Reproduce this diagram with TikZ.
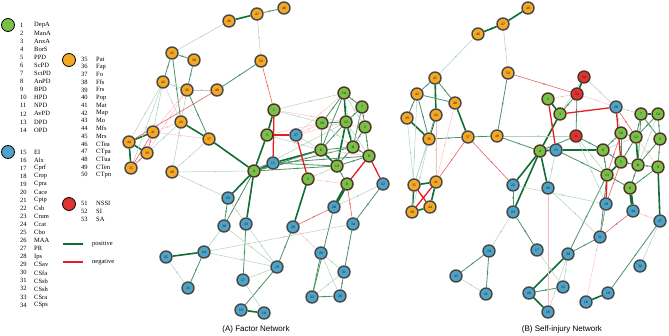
\documentclass[tikz,border=0pt]{standalone}
\usepackage{fontspec}
\setmainfont{Liberation Serif}
\newfontfamily\capfont{Liberation Sans}
\usetikzlibrary{arrows.meta,decorations.markings}
\definecolor{posc}{RGB}{16,110,52}
\definecolor{negc}{RGB}{228,30,36}
\definecolor{grnfill}{RGB}{122,192,72}
\definecolor{orgfill}{RGB}{245,168,35}
\definecolor{blufill}{RGB}{78,163,200}
\definecolor{redfill}{RGB}{222,52,52}
\definecolor{rimg}{RGB}{80,50,38}
\pgfdeclarelayer{bg}
\pgfsetlayers{bg,main}

\begin{document}
\begin{tikzpicture}[x=1pt,y=-1pt]
 \tikzset{vertex/.style = {shape=circle,draw=black!72,line width=1.4pt,minimum size=12pt,inner sep=0pt,font=\fontsize{3.6}{4}\selectfont}}
 \tikzset{gv/.style = {vertex,fill=grnfill,draw=rimg}}
 \tikzset{ov/.style = {vertex,fill=orgfill}}
 \tikzset{bv/.style = {vertex,fill=blufill}}
 \tikzset{rv/.style = {vertex,fill=redfill,draw=rimg}}
 \tikzset{edge/.style = {postaction={decorate},decoration={markings,mark=at position 0.55 with {\arrow{Stealth[length=2.2pt,width=1.8pt]}}}}}
 \tikzset{p0/.style = {edge,posc,line width=3pt}}
 \tikzset{p1/.style = {edge,posc,line width=1.6pt}}
 \tikzset{p2/.style = {edge,posc!75,line width=0.8pt}}
 \tikzset{p3/.style = {edge,posc!32,line width=0.5pt}}
 \tikzset{n1/.style = {edge,negc,line width=1.3pt}}
 \tikzset{n2/.style = {edge,negc!70,line width=0.6pt}}
 \tikzset{n3/.style = {edge,negc!30,line width=0.4pt}}
 \tikzset{leg/.style = {anchor=west,inner sep=0pt,font=\fontsize{6.5}{7}\selectfont}}
 \tikzset{legdot/.style = {shape=circle,draw=black,line width=0.8pt,minimum size=13pt,inner sep=0pt}}
 \useasboundingbox (0,0) rectangle (669,335);

 % legend
 \node[legdot,fill=grnfill] (dotg) at (8,25) {};
 \node[legdot,fill=blufill] (dotb) at (8,152) {};
 \node[legdot,fill=orgfill] (doto) at (69,60) {};
 \node[legdot,fill=redfill] (dotr) at (69,204) {};
 \foreach \i/\t [count=\k from 0] in {1/DepA,2/ManA,3/AnxA,4/BorS,5/PPD,6/ScPD,7/SctPD,8/AnPD,9/BPD,10/HPD,11/NPD,12/AvPD,13/DPD,14/OPD}{
  \node[leg] (num\i) at (20,{25+8.08*\k}) {\i};
  \node[leg] (lab\i) at (34,{25+8.08*\k}) {\t};
 }
 \foreach \i/\t [count=\k from 0] in {15/EI,16/Alx,17/Cprf,18/Crop,19/Cpra,20/Cace,21/Cpip,22/Csb,23/Crum,24/Ccat,25/Cbo,26/MAA,27/PR,28/Ips,29/CSav,30/CSfa,31/CSsb,32/CSsh,33/CSra,34/CSps}{
  \node[leg] (num\i) at (20,{152+8.05*\k}) {\i};
  \node[leg] (lab\i) at (34,{152+8.05*\k}) {\t};
 }
 \foreach \i/\t [count=\k from 0] in {35/Pat,36/Fap,37/Fo,38/Ffs,39/Frs,40/Pop,41/Mat,42/Map,43/Mo,44/Mfs,45/Mrs,46/CTea,47/CTpa,48/CTua,49/CTen,50/CTpn}{
  \node[leg] (num\i) at (81,{59+7.72*\k}) {\i};
  \node[leg] (lab\i) at (96,{59+7.72*\k}) {\t};
 }
 \foreach \i/\t [count=\k from 0] in {51/NSSI,52/SI,53/SA}{
  \node[leg] (num\i) at (81,{203+8*\k}) {\i};
  \node[leg] (lab\i) at (96,{203+8*\k}) {\t};
 }
 \coordinate (ps) at (63,244); \coordinate (pe) at (83,244);
 \coordinate (ns) at (63,262); \coordinate (ne) at (83,262);
 \draw[posc,line width=2.8pt] (ps) -- (pe);
 \draw[negc,line width=2.8pt] (ns) -- (ne);
 \node[leg] (lpos) at (92,244) {positive};
 \node[leg] (lneg) at (92,262) {negative};

 % (A) factor network
 \foreach \n/\x/\y in {1/274/110,2/365/127,3/267/135,4/254/171,5/308/179,6/321/150,7/362/107,8/347/184,9/369/156,10/322/123,11/353/147,12/346/122,13/337/166,14/344/93}
  \node[gv] (a\n) at (\x,\y) {\n};
 \foreach \n/\x/\y in {15/273/163,16/241/310,17/243/280,18/264/313,19/277/267,20/340/296,21/188/288,22/228/198,23/312/297,24/204/252,25/166/257,26/321/253,27/296/135,28/334/207,29/293/227,30/224/226,31/344/272,32/383/184,33/246/224,34/353/224}
  \node[bv] (a\n) at (\x,\y) {\n};
 \foreach \n/\x/\y in {35/131/168,36/187/90,37/209/139,38/194/60,39/147/153,40/217/90,41/153/132,42/163/82,43/181/122,44/129/142,45/172/53,46/229/21,47/257/14,48/284/8,49/172/172,50/261/61}
  \node[ov] (a\n) at (\x,\y) {\n};

 % (B) self-injury network
 \foreach \n/\x/\y in {1/548/99,2/660/139,3/560/114,4/540/151,5/621/162,6/603/150,7/641/114,8/630/188,9/658/167,10/621/133,11/638/165,12/636/137,13/607/175,14/658/114}
  \node[gv] (b\n) at (\x,\y) {\n};
 \foreach \n/\x/\y in {15/556/150,16/548/312,17/537/250,18/586/302,19/608/293,20/548/188,21/486/294,22/513/185,23/513/212,24/489/251,25/456/276,26/529/293,27/660/221,28/616/107,29/606/204,30/568/254,31/600/237,32/640/266,33/563/287,34/633/211}
  \node[bv] (b\n) at (\x,\y) {\n};
 \foreach \n/\x/\y in {35/414/185,36/429/139,37/468/137,38/412/212,39/407/118,40/455/103,41/436/182,42/417/94,43/436/115,44/430/207,45/435/78,46/478/34,47/503/24,48/528/8,49/497/136,50/508/73}
  \node[ov] (b\n) at (\x,\y) {\n};
 \foreach \n/\x/\y in {51/576/136,52/584/77,53/577/94}
  \node[rv] (b\n) at (\x,\y) {\n};

 \begin{pgfonlayer}{bg}
 % edges of (A)
 \foreach \u/\v in {4/15,8/28}
  \draw[p0] (a\u) -- (a\v);
 \foreach \u/\v in {46/47,43/37,37/4,44/41,44/39,44/35,1/3,3/4,15/6,4/22,4/33,24/25,16/18,5/29,14/12,12/11,12/13,6/13}
  \draw[p1] (a\u) -- (a\v);
 \foreach \u/\v in {47/48,45/38,45/42,45/43,38/36,40/50,36/37,4/6,4/13,15/13,22/30,4/30,33/17,24/21,16/19,19/29,28/23,34/31,32/34,31/20,23/20,26/23,13/8,4/11,15/9,14/10,14/7,14/6,7/12,7/2,7/11,12/10,12/6,2/9,2/11,11/9,11/13,11/6,10/6,9/13}
  \draw[p2] (a\u) -- (a\v);
 \foreach \u/\v in {47/50,45/46,42/36,36/40,42/41,37/49,42/35,43/39,49/4,42/44,36/49,49/22,1/10,27/6,3/6,30/24,24/34,17/19,17/18,25/21,23/31,5/13,14/11,10/11,14/2,12/9,4/12,32/28,26/31,26/20,30/19,22/33,24/19,1/14,33/19}
  \draw[p3] (a\u) -- (a\v);
 \foreach \u/\v in {1/15,3/27,27/5,9/32,9/8}
  \draw[n1] (a\u) -- (a\v);
 \foreach \u/\v in {50/1,40/44,41/39,39/35,41/35,8/34,29/28}
  \draw[n2] (a\u) -- (a\v);
 \foreach \u/\v in {42/43,36/41,43/41,37/41,36/39,1/12,3/10,27/10,27/12,5/8,10/2,6/9,26/29,27/14}
  \draw[n3] (a\u) -- (a\v);

 % edges of (B)
 \foreach \u/\v in {8/34}
  \draw[p0] (b\u) -- (b\v);
 \foreach \u/\v in {48/47,47/46,45/43,43/36,40/37,39/36,35/41,35/38,41/44,38/44,52/53,1/3,3/4,4/15,15/6,9/27,4/20,4/22,4/23,30/26,26/16,18/19,7/14,12/11,5/13}
  \draw[p1] (b\u) -- (b\v);
 \foreach \u/\v in {45/42,45/40,42/40,42/36,36/37,37/49,49/50,49/4,42/39,53/51,3/53,51/4,6/5,29/31,22/23,23/17,24/25,24/21,26/33,31/30,19/27,13/30,51/6,15/13,13/31,7/12,7/2,14/2,12/10,12/5,10/6,10/5,2/9,2/11,11/9,11/8,5/11,6/13,13/8,9/8,14/12,7/11}
  \draw[p2] (b\u) -- (b\v);
 \foreach \u/\v in {47/50,46/45,49/51,39/35,42/38,43/35,36/35,36/38,52/3,52/28,28/10,28/7,15/20,23/24,25/21,30/33,32/27,51/29,51/13,6/12,14/11,17/33,30/16,22/29,20/31}
  \draw[p3] (b\u) -- (b\v);
 \foreach \u/\v in {35/44,41/38,1/15,3/28,28/5,13/29}
  \draw[n1] (b\u) -- (b\v);
 \foreach \u/\v in {50/53,37/41,37/22,28/12,5/29,34/31,10/13}
  \draw[n2] (b\u) -- (b\v);
 \foreach \u/\v in {43/41,40/41,53/28,34/27,12/9,18/29,20/16,1/53}
  \draw[n3] (b\u) -- (b\v);
 \end{pgfonlayer}

 % captions
 \node[font=\capfont\fontsize{8}{9}\selectfont] (capA) at (256,329) {(A) Factor Network};
 \node[font=\capfont\fontsize{8}{9}\selectfont] (capB) at (562,329) {(B) Self-injury Network};
\end{tikzpicture}
\end{document}
